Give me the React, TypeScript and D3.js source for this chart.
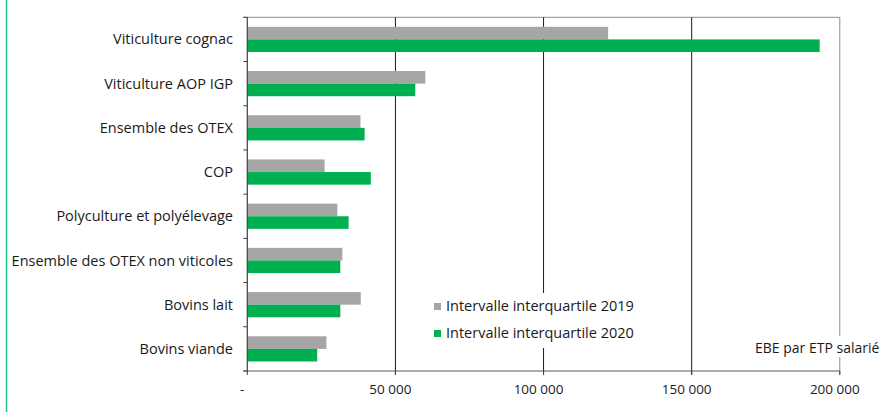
import React from "react";
import * as d3 from "d3";

// Categories, top to bottom
const categories = [
  "Viticulture cognac",
  "Viticulture AOP IGP",
  "Ensemble des OTEX",
  "COP",
  "Polyculture et polyélevage",
  "Ensemble des OTEX non viticoles",
  "Bovins lait",
  "Bovins viande",
];

// Interquartile range of EBE per salaried FTE (euros)
const values2019 = [121800, 60100, 38200, 26100, 30400, 32100, 38300, 26700];
const values2020 = [193200, 56700, 39600, 41700, 34200, 31400, 31400, 23600];

const seriesNames = ["Intervalle interquartile 2019", "Intervalle interquartile 2020"];
const seriesColors = ["#A6A6A6", "#00B050"];

const xTicks = [0, 50000, 100000, 150000, 200000];
const axisTitle = "EBE par ETP salarié";

const W = 883;
const H = 412;
const left = 247.3;
const right = 839.8;
const top = 17.3;
const bottom = 371;
const FONT = "'Open Sans', sans-serif";
const INK = "#1A1A1A";

// Thousands separated by a space, zero shown as a dash
const fmt = (v: number) => (v === 0 ? "-" : d3.format(",")(v).replace(/,/g, " "));

export default function App() {
  const x = d3.scaleLinear().domain([0, 200000]).range([left, right]);
  const y = d3.scaleBand<string>().domain(categories).range([top, bottom]).padding(0);
  const bw = y.bandwidth();
  const groupH = bw * 0.57;
  const inner = d3
    .scaleBand<number>()
    .domain([0, 1])
    .range([(bw - groupH) / 2, (bw + groupH) / 2])
    .padding(0);
  const series = [values2019, values2020];

  return (
    <svg
      width={W}
      height={H}
      style={{ position: "absolute", left: 0, top: 0, background: "#fff" }}
      fontFamily={FONT}
    >
      <rect x={0} y={0} width={W} height={H} fill="#fff" />
      {/* decorative side rule */}
      <line x1={6.5} x2={6.5} y1={0} y2={H} stroke="#1BC58E" strokeWidth={1.5} />

      {/* plot frame (top and right) */}
      <line x1={left - 4} x2={right} y1={top} y2={top} stroke="#8C8C8C" strokeWidth={1} />
      <line x1={right} x2={right} y1={top} y2={bottom + 4} stroke="#8C8C8C" strokeWidth={1} />

      {/* vertical gridlines */}
      {xTicks.slice(1, -1).map((t) => (
        <line key={t} x1={x(t)} x2={x(t)} y1={top} y2={bottom + 4} stroke="#1A1A1A" strokeWidth={1} />
      ))}

      {/* bars */}
      {categories.map((c, i) => (
        <g key={c} transform={`translate(0,${y(c)})`}>
          {series.map((vals, s) => (
            <rect
              key={s}
              x={x(0)}
              y={inner(s)}
              width={x(vals[i]) - x(0)}
              height={inner.bandwidth()}
              fill={seriesColors[s]}
            />
          ))}
        </g>
      ))}

      {/* y axis */}
      <line x1={left} x2={left} y1={top} y2={bottom} stroke="#404040" strokeWidth={1.2} />
      {d3.range(categories.length + 1).map((k) => (
        <line
          key={k}
          x1={left - 4}
          x2={left}
          y1={top + k * bw}
          y2={top + k * bw}
          stroke="#404040"
          strokeWidth={1}
        />
      ))}
      {categories.map((c) => (
        <text
          key={c}
          x={233}
          y={(y(c) as number) + bw / 2}
          dy="0.35em"
          textAnchor="end"
          fontSize={14.5}
          fill={INK}
        >
          {c}
        </text>
      ))}

      {/* x axis */}
      <line x1={left - 4} x2={right} y1={bottom} y2={bottom} stroke="#595959" strokeWidth={1.2} />
      {xTicks.map((t) => (
        <g key={t}>
          <line x1={x(t)} x2={x(t)} y1={bottom} y2={bottom + 4} stroke="#404040" strokeWidth={1} />
          <text x={x(t) - 5} y={394} textAnchor="middle" fontSize={13.5} fill={INK}>
            {fmt(t)}
          </text>
        </g>
      ))}

      {/* legend */}
      <rect x={428} y={293} width={214} height={55} fill="#fff" />
      {seriesNames.map((name, s) => (
        <g key={name} transform={`translate(434,${303 + s * 27})`}>
          <rect x={0} y={0} width={7} height={7} fill={seriesColors[s]} />
          <text x={12} y={8} fontSize={14.5} fill={INK}>
            {name}
          </text>
        </g>
      ))}

      {/* axis title */}
      <rect x={752} y={336} width={131} height={21} fill="#fff" />
      <text x={755} y={353} fontSize={14} fill={INK}>
        {axisTitle}
      </text>
    </svg>
  );
}
